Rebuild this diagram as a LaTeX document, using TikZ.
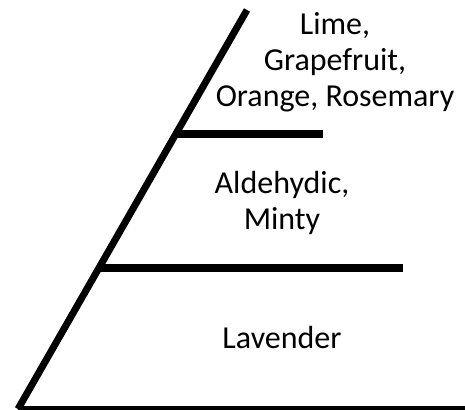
\documentclass[tikz,border=0pt]{standalone}
\usepackage{fontspec}
\setmainfont{Carlito}
\usepackage{tikz}
\usetikzlibrary{positioning,calc}

\begin{document}
\begin{tikzpicture}[x=1pt, y=-1pt,
	   lbl/.style={align=center, font=\fontsize{32}{36}\selectfont, inner sep=0pt},
	   edge/.style={line width=7pt},
	   shelf/.style={line width=8pt}]
	  \useasboundingbox (0,0) rectangle (465,409);
	  % frame of the pyramid
	  \coordinate (apex) at (247,10);
	  \coordinate (bl) at (18,409);
	  \coordinate (br) at (470,409);
	  \coordinate (t1) at (176,134);
	  \coordinate (t2) at (323,134);
	  \coordinate (m1) at (98,268);
	  \coordinate (m2) at (403,268);
	  \draw[edge] (bl) -- (apex);
	  \draw[edge] (bl) -- (br);
	  \draw[shelf] (t1) -- (t2);
	  \draw[shelf] (m1) -- (m2);
	  % notes per tier
	  \node[lbl] (top) at (335,62) {Lime,\\ Grapefruit,\\ Orange, Rosemary};
	  \node[lbl] (mid) at (282,203) {Aldehydic,\\ Minty};
	  \node[lbl] (base) at (282,338) {Lavender};
	\end{tikzpicture}
\end{document}
